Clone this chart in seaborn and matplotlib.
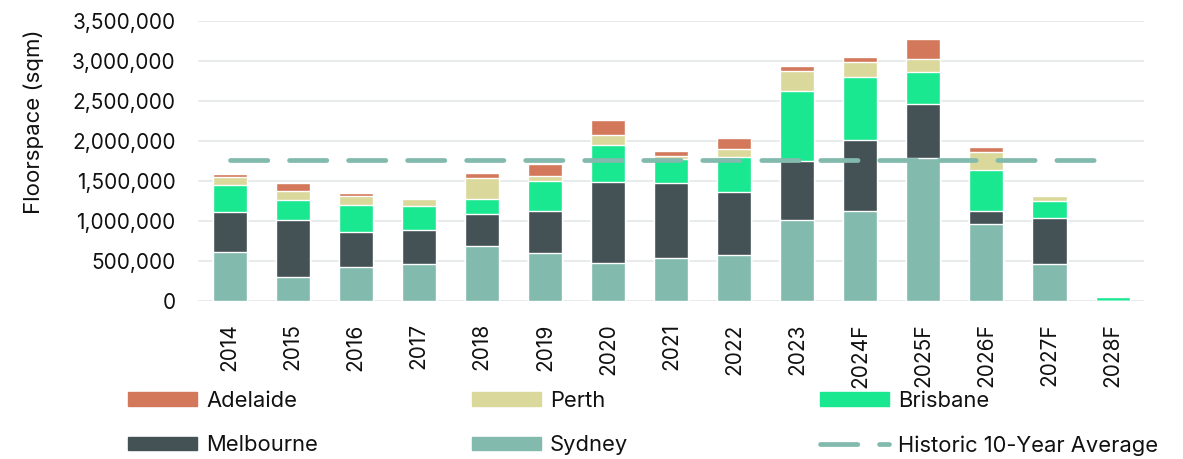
import matplotlib
matplotlib.use("Agg")
import matplotlib.pyplot as plt
import matplotlib.ticker as mticker
from matplotlib.patches import Patch
from matplotlib.lines import Line2D
import pandas as pd
import seaborn as sns

years = ["2014", "2015", "2016", "2017", "2018", "2019", "2020", "2021",
         "2022", "2023", "2024F", "2025F", "2026F", "2027F", "2028F"]
sydney = [612000, 300000, 420000, 458000, 691000, 595000, 470000, 537000,
          570000, 1007000, 1128000, 1782000, 957000, 462000, 0]
melbourne = [495000, 707000, 446000, 433000, 400000, 533000, 1012000, 937000,
             791000, 746000, 879000, 682000, 163000, 579000, 0]
brisbane = [346000, 254000, 337000, 295000, 183000, 371000, 466000, 299000,
            437000, 874000, 791000, 400000, 512000, 212000, 55000]
perth = [96000, 117000, 108000, 88000, 262000, 62000, 121000, 38000,
         100000, 245000, 191000, 163000, 233000, 63000, 5000]
adelaide = [37000, 96000, 34000, 12000, 63000, 154000, 192000, 67000,
            138000, 59000, 54000, 245000, 58000, 12000, 12000]
historic_avg = 1757000

cities = ["Sydney", "Melbourne", "Brisbane", "Perth", "Adelaide"]
colors = {"Sydney": "#82BAAD", "Melbourne": "#445256", "Brisbane": "#19E891",
          "Perth": "#DBD89B", "Adelaide": "#D3785A"}

df = pd.DataFrame({"year": years, "Sydney": sydney, "Melbourne": melbourne,
                   "Brisbane": brisbane, "Perth": perth, "Adelaide": adelaide})
cum = df[cities].cumsum(axis=1)

sns.set_theme(style="white")
plt.rcParams["font.family"] = ["Inter", "DejaVu Sans"]

fig = plt.figure(figsize=(11.83, 4.59), dpi=100)
ax = fig.add_axes([0.1674, 0.3442, 0.7997, 0.6108])

# stacked bars: draw cumulative totals from the top segment down
for city in reversed(cities):
    sns.barplot(x=df["year"], y=cum[city], color=colors[city], width=0.54,
                saturation=1, errorbar=None, ax=ax, zorder=2)

ax.plot(range(len(years)), [historic_avg] * len(years),
        color="#82BAAD", lw=3.4, dashes=(7.9, 4.6),
        dash_capstyle="round", zorder=4)

ax.set_xlim(-0.5, len(years) - 0.5)
ax.set_ylim(0, 3500000)
ax.yaxis.set_major_locator(mticker.MultipleLocator(500000))
ax.yaxis.set_major_formatter(mticker.FuncFormatter(lambda v, p: f"{v:,.0f}"))
ax.grid(axis="y", color="#E1E6E6", lw=1.1, zorder=0)
ax.set_axisbelow(True)
for s in ax.spines.values():
    s.set_visible(False)

ax.tick_params(axis="y", length=0, pad=16, labelsize=15, labelcolor="#111111")
ax.tick_params(axis="x", length=0, pad=16, labelsize=15, labelcolor="#111111",
               rotation=90)
ax.set_xlabel("")
ax.set_ylabel("Floorspace (sqm)", fontsize=16, color="#111111")
ax.yaxis.set_label_coords(-0.163, 0.64)

handles = {
    "Adelaide": Patch(color=colors["Adelaide"]),
    "Perth": Patch(color=colors["Perth"]),
    "Brisbane": Patch(color=colors["Brisbane"]),
    "Melbourne": Patch(color=colors["Melbourne"]),
    "Sydney": Patch(color=colors["Sydney"]),
    "Historic 10-Year Average": Line2D([], [], color="#82BAAD", lw=3.4,
                                       dashes=(7.9, 4.6), dash_capstyle="round"),
}
columns = [(["Adelaide", "Melbourne"], 0.1085),
           (["Perth", "Sydney"], 0.399),
           (["Brisbane", "Historic 10-Year Average"], 0.693)]
for names, xpos in columns:
    leg = fig.legend([handles[n] for n in names], names, loc="upper left",
                     bbox_to_anchor=(xpos, 0.148), frameon=False,
                     fontsize=15.8, handlelength=3.15, handleheight=0.6,
                     handletextpad=0.4, labelspacing=1.1,
                     borderaxespad=0, borderpad=0)
    for t in leg.get_texts():
        t.set_color("#111111")

fig.savefig("out.png", dpi=100)
